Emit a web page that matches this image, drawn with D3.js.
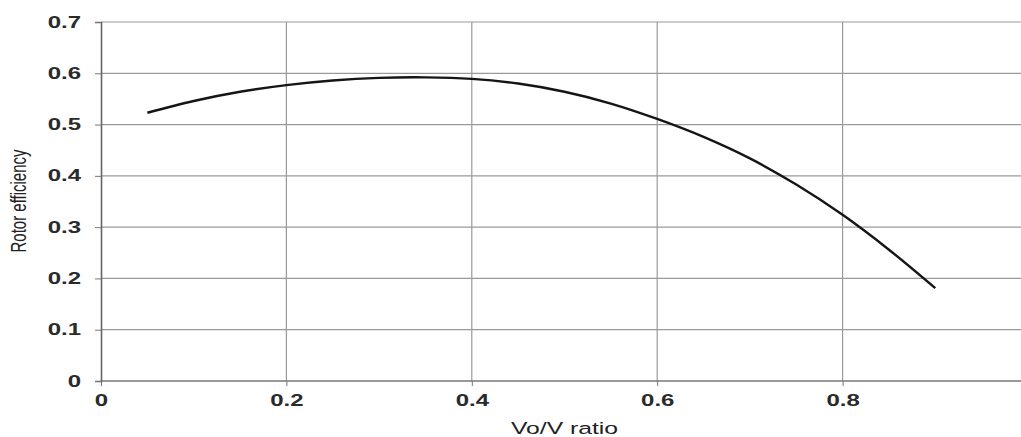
<!DOCTYPE html>
<html>
<head>
<script src="https://d3js.org/d3.v7.min.js"></script>
<style>
    html, body { margin: 0; padding: 0; background: #fff; }
    svg { display: block; }
    .tick text { font-family: "Liberation Sans", Arial, sans-serif; font-weight: bold; fill: #2a2a2a; }
</style>
</head>
<body>
<div id="chart"></div>
<script>
// Vo/V ratio vs rotor efficiency
var ratio = [0.05, 0.10, 0.15, 0.20, 0.25, 0.30, 0.35, 0.40, 0.45, 0.50, 0.55, 0.60, 0.65, 0.70, 0.75, 0.80, 0.85, 0.90];
var efficiency = [0.523, 0.546, 0.564, 0.577, 0.586, 0.591, 0.592, 0.589, 0.580, 0.564, 0.541, 0.511, 0.476, 0.434, 0.383, 0.324, 0.256, 0.181];
var xTicks = [0, 0.2, 0.4, 0.6, 0.8];
var yTicks = [0, 0.1, 0.2, 0.3, 0.4, 0.5, 0.6, 0.7];

var width = 1021, height = 437;
var stretch = 1.5; // the picture is stretched sideways

var svg = d3.select("#chart").append("svg")
    .attr("width", width)
    .attr("height", height);

var x = d3.scaleLinear().domain([0, 1]).range([101, 1028]);
var y = d3.scaleLinear().domain([0, 0.7]).range([381, 22]);

// grid
svg.append("g").selectAll("line.h")
    .data(yTicks.filter(function(d) { return d > 0; }))
    .enter().append("line")
    .attr("x1", x(0)).attr("x2", width)
    .attr("y1", function(d) { return y(d); })
    .attr("y2", function(d) { return y(d); })
    .attr("stroke", "#9a9a9a").attr("stroke-width", 1.2);

svg.append("g").selectAll("line.v")
    .data(xTicks.filter(function(d) { return d > 0; }))
    .enter().append("line")
    .attr("x1", function(d) { return x(d); })
    .attr("x2", function(d) { return x(d); })
    .attr("y1", y(0.7)).attr("y2", y(0))
    .attr("stroke", "#9a9a9a").attr("stroke-width", 1.2);

// axes
var fmt = function(d) { return d === 0 ? "0" : d3.format(".1f")(d); };

var xAxis = svg.append("g")
    .attr("transform", "translate(0," + y(0) + ")")
    .call(d3.axisBottom(x).tickValues(xTicks).tickSize(5).tickPadding(9).tickFormat(fmt));
xAxis.select(".domain").remove();
xAxis.append("line").attr("x1", x(0)).attr("x2", width)
    .attr("stroke", "#777").attr("stroke-width", 1.3);
xAxis.selectAll(".tick line").attr("stroke", "#777");
xAxis.selectAll(".tick text")
    .attr("font-size", 16)
    .attr("transform", "scale(" + stretch + ",1)");

var yAxis = svg.append("g")
    .attr("transform", "translate(" + x(0) + ",0)")
    .call(d3.axisLeft(y).tickValues(yTicks).tickSize(6).tickPadding(0).tickFormat(fmt));
yAxis.select(".domain").attr("stroke", "#666").attr("stroke-width", 1.6);
yAxis.selectAll(".tick line").attr("stroke", "#777");
yAxis.selectAll(".tick text")
    .attr("font-size", 16)
    .attr("x", -20 / stretch)
    .attr("transform", "scale(" + stretch + ",1)");

// curve
var line = d3.line()
    .x(function(d, i) { return x(ratio[i]); })
    .y(function(d) { return y(d); })
    .curve(d3.curveCatmullRom);

svg.append("path")
    .datum(efficiency)
    .attr("d", line)
    .attr("fill", "none")
    .attr("stroke", "#151515")
    .attr("stroke-width", 2.4);

// axis titles
svg.append("text")
    .attr("transform", "translate(" + ((x(0) + x(1)) / 2) + ",434) scale(" + stretch + ",1)")
    .attr("text-anchor", "middle")
    .attr("font-family", "Liberation Sans, Arial, sans-serif")
    .attr("font-size", 16.5)
    .attr("fill", "#222")
    .text("Vo/V ratio");

svg.append("text")
    .attr("transform", "translate(26,201) scale(" + stretch + ",1) rotate(-90)")
    .attr("text-anchor", "middle")
    .attr("font-family", "Liberation Sans, Arial, sans-serif")
    .attr("font-size", 15)
    .attr("fill", "#222")
    .text("Rotor efficiency");
</script>
</body>
</html>
